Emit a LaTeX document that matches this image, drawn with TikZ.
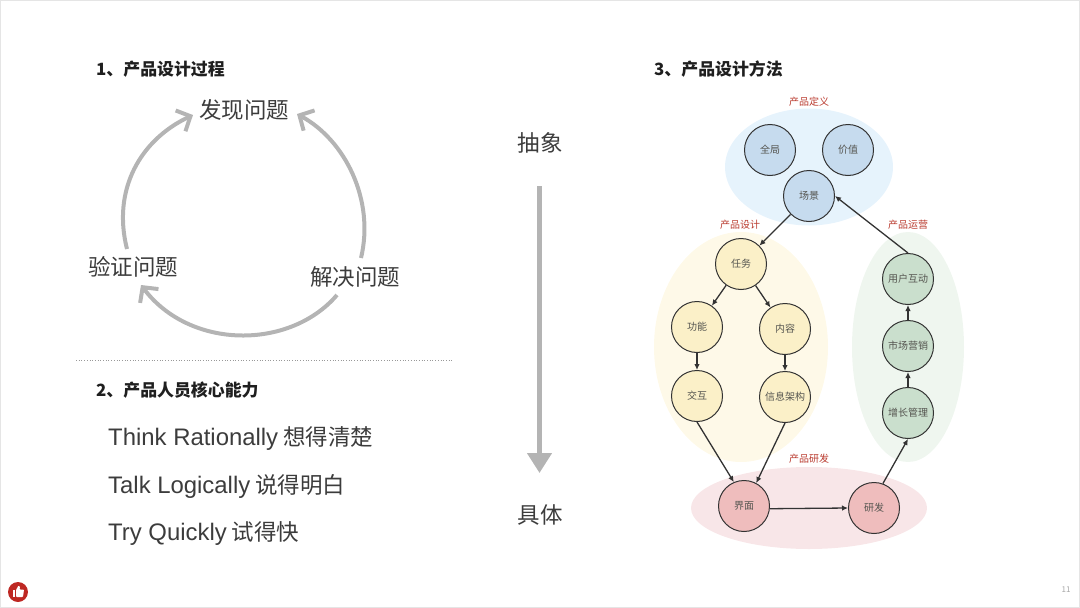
\documentclass[tikz,border=0pt]{standalone}
\usepackage{fontspec}
\setmainfont{Noto Sans CJK SC}
\newfontfamily\latinfont{Liberation Sans}
\usetikzlibrary{arrows.meta,positioning,shapes.geometric}

\definecolor{inkgray}{HTML}{3C3C3C}
\definecolor{curvegray}{HTML}{B4B4B4}
\definecolor{titlered}{HTML}{B93A2E}
\definecolor{labelgray}{HTML}{555550}

\begin{document}
\begin{tikzpicture}[
  x=1pt,y=-1pt,
  node distance=17pt,
  heading/.style={font=\fontsize{16.9}{18}\selectfont\bfseries,text=black!88,anchor=west,inner sep=0pt},
  stage/.style={font=\fontsize{22.5}{24}\selectfont,text=inkgray,inner sep=0pt},
  skill/.style={font=\fontsize{22.5}{24}\selectfont,text=inkgray,anchor=west,inner sep=0pt},
  blob/.style={ellipse,draw=none,inner sep=0pt},
  blobtitle/.style={font=\fontsize{10}{12}\selectfont,text=titlered,inner sep=0pt},
  cell/.style={circle,draw=black!80,line width=1pt,minimum size=51pt,inner sep=0pt,
    font=\fontsize{10}{12}\selectfont,text=labelgray},
  defcell/.style={cell,fill={rgb,255:red,198;green,219;blue,238}},
  designcell/.style={cell,fill={rgb,255:red,251;green,240;blue,200}},
  opscell/.style={cell,fill={rgb,255:red,202;green,223;blue,205}},
  rdcell/.style={cell,fill={rgb,255:red,239;green,189;blue,189}},
  arrow/.style={-{Latex[length=6pt,width=5.5pt]},line width=1.3pt,black!80},
  loop/.style={-{Straight Barb[length=11pt,width=23pt]},line width=4pt,curvegray}
]
\useasboundingbox (0,0) rectangle (1080,608);
\draw[black!10,line width=1pt] (0.5,0.5) rectangle (1079.5,607.5);

% left column
\node[heading] (head1) at (96,69) {1、产品设计过程};
\node[stage] (find) at (244,110) {发现问题};
\node[stage] (solve) at (355,277) {解决问题};
\node[stage] (check) at (133,267) {验证问题};
\coordinate (c1) at (127,249);
\coordinate (c2) at (193,115);
\coordinate (c3) at (361,258);
\coordinate (c4) at (297,114);
\coordinate (c5) at (337,295);
\coordinate (c6) at (141,285);
\draw[loop] (c1) .. controls (112,190) and (140,140) .. (c2);
\draw[loop] (c3) .. controls (375,200) and (345,140) .. (c4);
\draw[loop] (c5) .. controls (290,350) and (190,350) .. (c6);

\coordinate (ruleL) at (76,360);
\coordinate (ruleR) at (452,360);
\draw[black!40,line width=0.7pt,dotted] (ruleL)--(ruleR);

\node[heading] (head2) at (96,390) {2、产品人员核心能力};
\node[skill] (think) at (108,439) {{\latinfont\fontsize{23.9}{24}\selectfont Think Rationally} 想得清楚};
\node[skill] (talk) at (108,486) {{\latinfont\fontsize{23.9}{24}\selectfont Talk Logically} 说得明白};
\node[skill] (try) at (108,534) {{\latinfont\fontsize{23.9}{24}\selectfont Try Quickly} 试得快};

% middle
\node[stage] (abstract) at (540,143) {抽象};
\node[stage] (concrete) at (540,515) {具体};
\coordinate (downA) at (539.5,186);
\coordinate (downB) at (539.5,473);
\draw[-{Triangle[length=20pt,width=24pt]},line width=4.5pt,curvegray] (downA)--(downB);

% right column
\node[heading] (head3) at (654,69) {3、产品设计方法};
\node[blob,fill={rgb,255:red,230;green,243;blue,252},minimum width=168pt,minimum height=117pt] (defblob) at (809,167) {};
\node[blob,fill={rgb,255:red,254;green,249;blue,232},minimum width=174pt,minimum height=230pt] (designblob) at (741,347) {};
\node[blob,fill={rgb,255:red,239;green,246;blue,239},minimum width=112pt,minimum height=230pt] (opsblob) at (908,347) {};
\node[blob,fill={rgb,255:red,248;green,230;blue,232},minimum width=236pt,minimum height=82pt] (rdblob) at (809,508) {};
\node[blobtitle,above=2pt of defblob] (deftitle) {产品定义};
\node[blobtitle] (designtitle) at (740,225) {产品设计};
\node[blobtitle] (opstitle) at (908,225) {产品运营};
\node[blobtitle] (rdtitle) at (809,459) {产品研发};

\node[defcell] (whole) at (770,150) {全局};
\node[defcell] (value) at (848,150) {价值};
\node[defcell] (scene) at (809,196) {场景};
\node[designcell] (task) at (741,264) {任务};
\node[designcell] (func) at (697,327) {功能};
\node[designcell] (content) at (785,329) {内容};
\node[designcell,below=17pt of func] (inter) {交互};
\node[designcell,below=16pt of content] (arch) {信息架构};
\node[rdcell] (ui) at (744,506) {界面};
\node[rdcell] (dev) at (874,508) {研发};
\node[opscell] (user) at (908,279) {用户互动};
\node[opscell,below=15pt of user] (market) {市场营销};
\node[opscell,below=15pt of market] (growth) {增长管理};

\draw[arrow] (scene)--(task);
\draw[arrow] (task)--(func);
\draw[arrow] (task)--(content);
\draw[arrow] (func)--(inter);
\draw[arrow] (content)--(arch);
\draw[arrow] (inter.south)--(ui.113);
\draw[arrow] (arch.south)--(ui.62);
\draw[arrow] (ui.-6)--(dev.west);
\draw[arrow] (dev.70)--(growth.south);
\draw[arrow] (growth)--(market);
\draw[arrow] (market)--(user);
\draw[arrow] (user.north)--(scene.east);

% footer
\node[circle,fill={rgb,255:red,190;green,40;blue,35},minimum size=20pt,inner sep=0pt] (thumb) at (18,592) {};
\fill[white] (12.5,590) rectangle (15,597);
\fill[white,rounded corners=0.8pt] (16,590) -- (18.5,585.5) -- (20,586.5) -- (19.5,589.5) -- (24,589.5) -- (23,597) -- (16,597) -- cycle;
\node[font=\fontsize{8}{9}\selectfont,text=black!35,inner sep=0pt] (pagenum) at (1066,590) {11};
\end{tikzpicture}
\end{document}
